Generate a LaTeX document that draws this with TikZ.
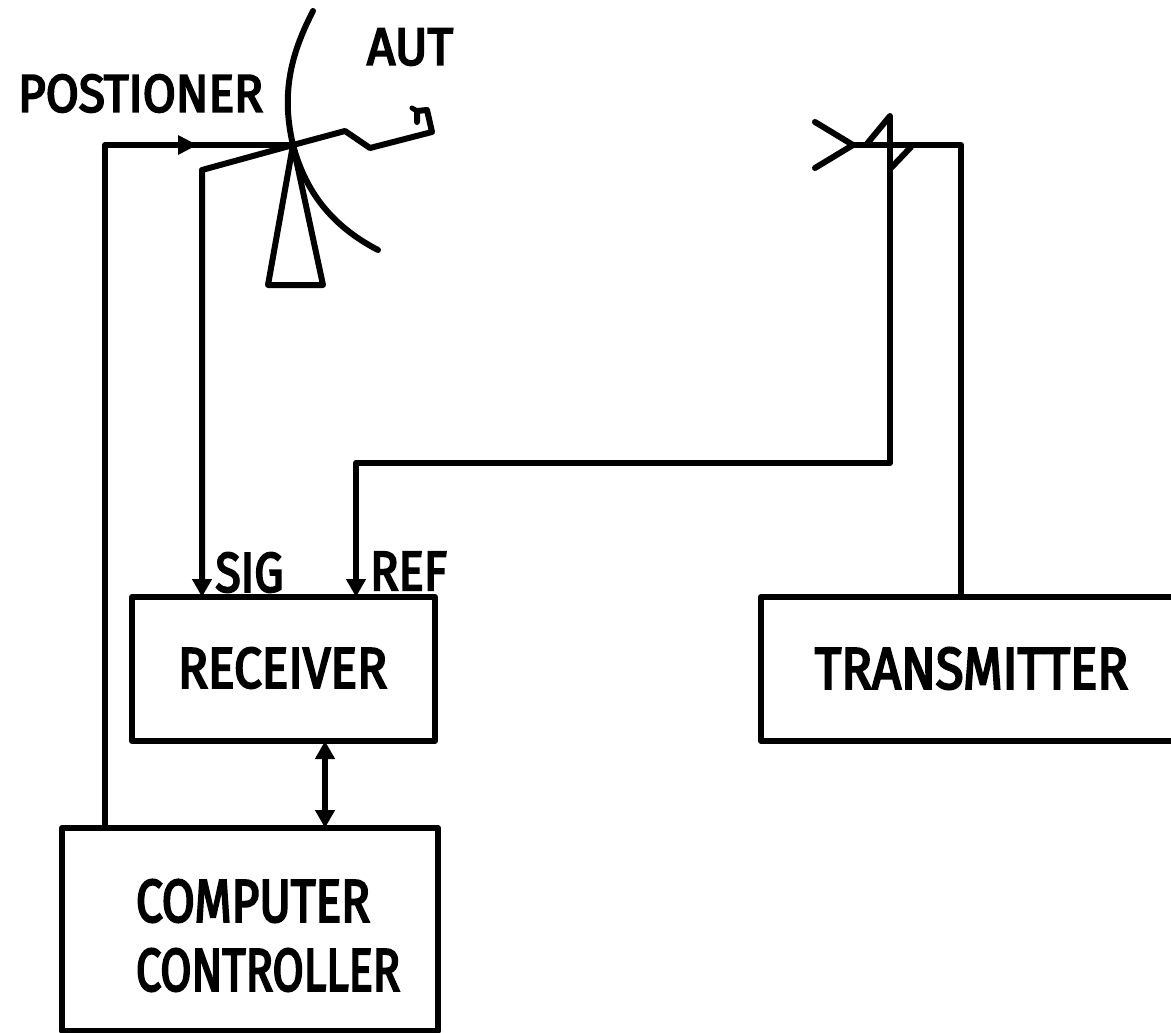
\documentclass[tikz,border=0pt]{standalone}
\usepackage{fontspec}
\setmainfont{Fira Sans}
\newfontfamily\labfont[FakeBold=4]{Fira Sans}
\usetikzlibrary{arrows.meta}
\newcommand{\lab}[3]{\resizebox{#1pt}{#2pt}{\labfont #3}}
\tikzset{
  x=1pt,y=-1pt,
  wire/.style={line width=6pt,line join=round,line cap=round,draw=black},
  thinwire/.style={wire,line width=5pt},
  boxnode/.style={draw=black,line width=6pt,rectangle,outer sep=0pt,inner sep=0pt,line join=round},
  txt/.style={inner sep=0pt,outer sep=0pt,text=black},
  tip/.style={-{Triangle[length=18pt,width=19pt]}},
  tips/.style={{Triangle[length=18pt,width=19pt]}-{Triangle[length=18pt,width=19pt]}}
}
\begin{document}
\begin{tikzpicture}
\useasboundingbox (0,0) rectangle (1171,1033);
% boxes
\node[boxnode,minimum width=303pt,minimum height=144pt] (rec) at (283.5,669) {};
\node[boxnode,minimum width=414pt,minimum height=144pt] (tra) at (968,669) {};
\node[boxnode,minimum width=376pt,minimum height=203pt] (com) at (250,929.5) {};
% labels
\node[txt] (lrec) at (282.5,668) {\lab{209}{40}{RECEIVER}};
\node[txt] (ltra) at (971.5,668.5) {\lab{313}{41}{TRANSMITTER}};
\node[txt] (lcom1) at (253,901) {\lab{234}{42}{COMPUTER}};
\node[txt] (lcom2) at (268,970) {\lab{264}{42}{CONTROLLER}};
\node[txt] (lpos) at (140.5,93.5) {\lab{245}{37}{POSTIONER}};
\node[txt] (laut) at (410,47) {\lab{86}{36}{AUT}};
\node[txt] (lsig) at (249.5,572.5) {\lab{68}{39}{SIG}};
\node[txt] (lref) at (408.5,571) {\lab{77}{38}{REF}};
% key points
\coordinate (hub) at (293,145);
\coordinate (pl) at (105,145);
\coordinate (sigbend) at (202,170);
\coordinate (wa) at (345,131);
\coordinate (wb) at (370,148);
\coordinate (wc) at (432,132);
\coordinate (wd) at (427,110);
\coordinate (we) at (417,111);
\coordinate (wf) at (417,122);
\coordinate (wg) at (412,108);
\coordinate (feed) at (853,145);
\coordinate (txc) at (961,145);
\coordinate (dt) at (890,116);
\coordinate (refa) at (890,463);
\coordinate (refb) at (356,463);
\coordinate (ha) at (815,122);
\coordinate (hb) at (815,168);
\coordinate (rc) at (911,147);
\coordinate (rd) at (891,168);
% positioner line
\draw[wire] (105,828) -- (pl) -- (hub);
\fill (197,145) -- (178,135) -- (178,155) -- cycle;
% signal
\draw[wire,tip,line cap=butt] (hub) -- (sigbend) -- (sigbend |- rec.north);
% antenna arm
\draw[wire] (hub) -- (wa) -- (wb) -- (wc) -- (wd) -- (we) -- (wf);
\draw[thinwire] (wg) -- (we);
% dish
\draw[wire] (313,11) .. controls (293,50) and (280,90) .. (hub)
  .. controls (305,190) and (330,225) .. (378,250);
% pedestal
\coordinate (pa) at (268,285);
\coordinate (pb) at (323,285);
\draw[wire] (hub) -- (pa) -- (pb) -- cycle;
% reference
\draw[wire,tip,line cap=butt] (dt) -- (refa) -- (refb) -- (refb |- rec.north);
% transmitter feed
\draw[wire] (961,597) -- (txc) -- (feed);
\draw[wire] (ha) -- (feed) -- (hb);
\draw[wire] (866,145) -- (dt);
\draw[wire] (rc) -- (rd);
% receiver-computer
\draw[wire,tips,line cap=butt] (325,741) -- (325,828);
\end{tikzpicture}
\end{document}
